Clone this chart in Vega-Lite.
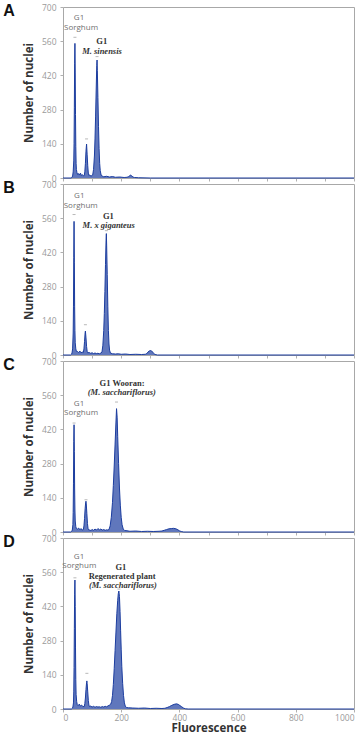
{
  "$schema": "https://vega.github.io/schema/vega-lite/v6.json",
  "background": "white",
  "padding": {"left": 2, "top": 2, "right": 4, "bottom": 0},
  "spacing": 6,
  "bounds": "flush",
  "config": {
    "view": {"stroke": "#a8a8a8", "strokeWidth": 1},
    "axis": {
      "grid": false,
      "domain": false,
      "labelFont": "Open Sans",
      "labelFontSize": 8.5,
      "labelColor": "#9a9a9a",
      "labelOverlap": false,
      "tickColor": "#b0b0b0",
      "tickSize": 3,
      "titleFont": "Open Sans",
      "titleFontWeight": "bold",
      "titleColor": "#333333",
      "titleFontSize": 11.5
    },
    "title": {"font": "Liberation Sans", "fontSize": 16, "fontWeight": "bold", "color": "#111111"}
  },
  "datasets": {
    "histA": [
      {"channel": 0, "nuclei": 0}, {"channel": 28, "nuclei": 0}, {"channel": 31, "nuclei": 3}, {"channel": 33, "nuclei": 8},
      {"channel": 35, "nuclei": 25}, {"channel": 37, "nuclei": 70}, {"channel": 38, "nuclei": 140}, {"channel": 39, "nuclei": 290},
      {"channel": 40, "nuclei": 470}, {"channel": 41, "nuclei": 551}, {"channel": 42, "nuclei": 430}, {"channel": 43, "nuclei": 260},
      {"channel": 44, "nuclei": 130}, {"channel": 45, "nuclei": 60}, {"channel": 46, "nuclei": 35}, {"channel": 48, "nuclei": 22},
      {"channel": 50, "nuclei": 15}, {"channel": 53, "nuclei": 18}, {"channel": 56, "nuclei": 12}, {"channel": 60, "nuclei": 20},
      {"channel": 63, "nuclei": 10}, {"channel": 66, "nuclei": 14}, {"channel": 70, "nuclei": 9}, {"channel": 73, "nuclei": 10},
      {"channel": 75, "nuclei": 25}, {"channel": 77, "nuclei": 60}, {"channel": 79, "nuclei": 110}, {"channel": 81, "nuclei": 139},
      {"channel": 83, "nuclei": 95}, {"channel": 85, "nuclei": 50}, {"channel": 87, "nuclei": 20}, {"channel": 89, "nuclei": 10},
      {"channel": 92, "nuclei": 12}, {"channel": 96, "nuclei": 8}, {"channel": 100, "nuclei": 10}, {"channel": 102, "nuclei": 12},
      {"channel": 105, "nuclei": 35}, {"channel": 108, "nuclei": 90}, {"channel": 110, "nuclei": 160}, {"channel": 112, "nuclei": 250},
      {"channel": 114, "nuclei": 360}, {"channel": 116, "nuclei": 460}, {"channel": 117, "nuclei": 483}, {"channel": 118, "nuclei": 440},
      {"channel": 120, "nuclei": 330}, {"channel": 122, "nuclei": 210}, {"channel": 124, "nuclei": 120}, {"channel": 126, "nuclei": 60},
      {"channel": 128, "nuclei": 30}, {"channel": 131, "nuclei": 12}, {"channel": 135, "nuclei": 8}, {"channel": 140, "nuclei": 5},
      {"channel": 150, "nuclei": 7}, {"channel": 160, "nuclei": 4}, {"channel": 170, "nuclei": 6}, {"channel": 180, "nuclei": 3},
      {"channel": 195, "nuclei": 4}, {"channel": 210, "nuclei": 2}, {"channel": 220, "nuclei": 3}, {"channel": 226, "nuclei": 6},
      {"channel": 230, "nuclei": 10}, {"channel": 233, "nuclei": 12}, {"channel": 236, "nuclei": 9}, {"channel": 240, "nuclei": 4},
      {"channel": 246, "nuclei": 2}, {"channel": 260, "nuclei": 1}, {"channel": 300, "nuclei": 0}, {"channel": 1000, "nuclei": 0}
    ],
    "histB": [
      {"channel": 0, "nuclei": 0}, {"channel": 26, "nuclei": 0}, {"channel": 29, "nuclei": 3}, {"channel": 31, "nuclei": 8},
      {"channel": 33, "nuclei": 25}, {"channel": 35, "nuclei": 90}, {"channel": 36, "nuclei": 200}, {"channel": 37, "nuclei": 400},
      {"channel": 38, "nuclei": 547}, {"channel": 39, "nuclei": 380}, {"channel": 40, "nuclei": 200}, {"channel": 41, "nuclei": 100},
      {"channel": 42, "nuclei": 50}, {"channel": 44, "nuclei": 25}, {"channel": 46, "nuclei": 15}, {"channel": 50, "nuclei": 14},
      {"channel": 54, "nuclei": 10}, {"channel": 58, "nuclei": 16}, {"channel": 62, "nuclei": 9}, {"channel": 66, "nuclei": 12},
      {"channel": 70, "nuclei": 10}, {"channel": 72, "nuclei": 25}, {"channel": 74, "nuclei": 55}, {"channel": 76, "nuclei": 90},
      {"channel": 77, "nuclei": 98}, {"channel": 79, "nuclei": 70}, {"channel": 81, "nuclei": 35}, {"channel": 83, "nuclei": 15},
      {"channel": 85, "nuclei": 9}, {"channel": 90, "nuclei": 10}, {"channel": 95, "nuclei": 7}, {"channel": 100, "nuclei": 9},
      {"channel": 105, "nuclei": 6}, {"channel": 110, "nuclei": 8}, {"channel": 115, "nuclei": 6}, {"channel": 120, "nuclei": 7},
      {"channel": 125, "nuclei": 5}, {"channel": 130, "nuclei": 8}, {"channel": 134, "nuclei": 12}, {"channel": 137, "nuclei": 40},
      {"channel": 140, "nuclei": 100}, {"channel": 142, "nuclei": 170}, {"channel": 144, "nuclei": 260}, {"channel": 146, "nuclei": 370},
      {"channel": 148, "nuclei": 470}, {"channel": 149, "nuclei": 497}, {"channel": 150, "nuclei": 450}, {"channel": 152, "nuclei": 330},
      {"channel": 154, "nuclei": 200}, {"channel": 156, "nuclei": 100}, {"channel": 158, "nuclei": 45}, {"channel": 160, "nuclei": 20},
      {"channel": 163, "nuclei": 8}, {"channel": 170, "nuclei": 5}, {"channel": 180, "nuclei": 4}, {"channel": 190, "nuclei": 5},
      {"channel": 200, "nuclei": 3}, {"channel": 215, "nuclei": 4}, {"channel": 230, "nuclei": 2}, {"channel": 250, "nuclei": 3},
      {"channel": 270, "nuclei": 2}, {"channel": 283, "nuclei": 3}, {"channel": 288, "nuclei": 6}, {"channel": 292, "nuclei": 12},
      {"channel": 296, "nuclei": 16}, {"channel": 300, "nuclei": 18}, {"channel": 304, "nuclei": 17}, {"channel": 308, "nuclei": 12},
      {"channel": 312, "nuclei": 6}, {"channel": 316, "nuclei": 2}, {"channel": 325, "nuclei": 0}, {"channel": 1000, "nuclei": 0}
    ],
    "histC": [
      {"channel": 0, "nuclei": 0}, {"channel": 27, "nuclei": 0}, {"channel": 30, "nuclei": 3}, {"channel": 32, "nuclei": 8},
      {"channel": 34, "nuclei": 30}, {"channel": 35, "nuclei": 80}, {"channel": 36, "nuclei": 200}, {"channel": 37, "nuclei": 370},
      {"channel": 38, "nuclei": 439}, {"channel": 39, "nuclei": 330}, {"channel": 40, "nuclei": 180}, {"channel": 41, "nuclei": 90},
      {"channel": 42, "nuclei": 45}, {"channel": 44, "nuclei": 22}, {"channel": 46, "nuclei": 14}, {"channel": 50, "nuclei": 12},
      {"channel": 54, "nuclei": 16}, {"channel": 58, "nuclei": 9}, {"channel": 62, "nuclei": 14}, {"channel": 66, "nuclei": 8},
      {"channel": 70, "nuclei": 10}, {"channel": 72, "nuclei": 25}, {"channel": 74, "nuclei": 55}, {"channel": 76, "nuclei": 95},
      {"channel": 78, "nuclei": 122}, {"channel": 79, "nuclei": 126}, {"channel": 80, "nuclei": 115}, {"channel": 82, "nuclei": 75},
      {"channel": 84, "nuclei": 35}, {"channel": 86, "nuclei": 15}, {"channel": 88, "nuclei": 9}, {"channel": 92, "nuclei": 8},
      {"channel": 96, "nuclei": 6}, {"channel": 100, "nuclei": 10}, {"channel": 105, "nuclei": 7}, {"channel": 110, "nuclei": 12},
      {"channel": 115, "nuclei": 8}, {"channel": 120, "nuclei": 14}, {"channel": 125, "nuclei": 9}, {"channel": 130, "nuclei": 12},
      {"channel": 135, "nuclei": 8}, {"channel": 140, "nuclei": 10}, {"channel": 145, "nuclei": 7}, {"channel": 150, "nuclei": 9},
      {"channel": 154, "nuclei": 8}, {"channel": 158, "nuclei": 10}, {"channel": 162, "nuclei": 25}, {"channel": 166, "nuclei": 60},
      {"channel": 170, "nuclei": 120}, {"channel": 173, "nuclei": 190}, {"channel": 176, "nuclei": 270}, {"channel": 179, "nuclei": 360},
      {"channel": 182, "nuclei": 450}, {"channel": 184, "nuclei": 505}, {"channel": 186, "nuclei": 470}, {"channel": 188, "nuclei": 390},
      {"channel": 191, "nuclei": 280}, {"channel": 194, "nuclei": 180}, {"channel": 197, "nuclei": 110}, {"channel": 200, "nuclei": 60},
      {"channel": 203, "nuclei": 30}, {"channel": 207, "nuclei": 12}, {"channel": 212, "nuclei": 6}, {"channel": 220, "nuclei": 5},
      {"channel": 230, "nuclei": 3}, {"channel": 250, "nuclei": 4}, {"channel": 270, "nuclei": 2}, {"channel": 290, "nuclei": 3},
      {"channel": 310, "nuclei": 2}, {"channel": 330, "nuclei": 3}, {"channel": 340, "nuclei": 4}, {"channel": 348, "nuclei": 7},
      {"channel": 356, "nuclei": 10}, {"channel": 364, "nuclei": 13}, {"channel": 372, "nuclei": 14}, {"channel": 380, "nuclei": 15},
      {"channel": 388, "nuclei": 13}, {"channel": 395, "nuclei": 9}, {"channel": 400, "nuclei": 5}, {"channel": 406, "nuclei": 2},
      {"channel": 415, "nuclei": 0}, {"channel": 1000, "nuclei": 0}
    ],
    "histD": [
      {"channel": 0, "nuclei": 0}, {"channel": 29, "nuclei": 0}, {"channel": 32, "nuclei": 3}, {"channel": 34, "nuclei": 8},
      {"channel": 36, "nuclei": 25}, {"channel": 37, "nuclei": 70}, {"channel": 38, "nuclei": 170}, {"channel": 39, "nuclei": 330},
      {"channel": 40, "nuclei": 470}, {"channel": 41, "nuclei": 528}, {"channel": 42, "nuclei": 420}, {"channel": 43, "nuclei": 250},
      {"channel": 44, "nuclei": 120}, {"channel": 45, "nuclei": 60}, {"channel": 47, "nuclei": 30}, {"channel": 49, "nuclei": 18},
      {"channel": 52, "nuclei": 14}, {"channel": 56, "nuclei": 20}, {"channel": 60, "nuclei": 12}, {"channel": 64, "nuclei": 16},
      {"channel": 68, "nuclei": 10}, {"channel": 73, "nuclei": 10}, {"channel": 75, "nuclei": 22}, {"channel": 77, "nuclei": 45},
      {"channel": 79, "nuclei": 80}, {"channel": 81, "nuclei": 108}, {"channel": 82, "nuclei": 115}, {"channel": 83, "nuclei": 105},
      {"channel": 85, "nuclei": 70}, {"channel": 87, "nuclei": 35}, {"channel": 89, "nuclei": 16}, {"channel": 91, "nuclei": 10},
      {"channel": 95, "nuclei": 12}, {"channel": 100, "nuclei": 8}, {"channel": 105, "nuclei": 11}, {"channel": 110, "nuclei": 7},
      {"channel": 115, "nuclei": 10}, {"channel": 120, "nuclei": 8}, {"channel": 125, "nuclei": 9}, {"channel": 130, "nuclei": 7},
      {"channel": 135, "nuclei": 10}, {"channel": 140, "nuclei": 8}, {"channel": 145, "nuclei": 11}, {"channel": 150, "nuclei": 9},
      {"channel": 155, "nuclei": 13}, {"channel": 160, "nuclei": 16}, {"channel": 164, "nuclei": 20}, {"channel": 167, "nuclei": 30},
      {"channel": 170, "nuclei": 55}, {"channel": 173, "nuclei": 100}, {"channel": 176, "nuclei": 165}, {"channel": 179, "nuclei": 240},
      {"channel": 182, "nuclei": 315}, {"channel": 185, "nuclei": 390}, {"channel": 188, "nuclei": 445}, {"channel": 190, "nuclei": 472},
      {"channel": 192, "nuclei": 483}, {"channel": 194, "nuclei": 460}, {"channel": 196, "nuclei": 400}, {"channel": 198, "nuclei": 320},
      {"channel": 200, "nuclei": 245}, {"channel": 202, "nuclei": 175}, {"channel": 205, "nuclei": 105}, {"channel": 208, "nuclei": 55},
      {"channel": 211, "nuclei": 25}, {"channel": 214, "nuclei": 12}, {"channel": 218, "nuclei": 6}, {"channel": 225, "nuclei": 5},
      {"channel": 240, "nuclei": 4}, {"channel": 260, "nuclei": 3}, {"channel": 280, "nuclei": 4}, {"channel": 300, "nuclei": 2},
      {"channel": 320, "nuclei": 3}, {"channel": 340, "nuclei": 2}, {"channel": 350, "nuclei": 3}, {"channel": 358, "nuclei": 6},
      {"channel": 366, "nuclei": 10}, {"channel": 374, "nuclei": 15}, {"channel": 382, "nuclei": 19}, {"channel": 390, "nuclei": 21},
      {"channel": 396, "nuclei": 19}, {"channel": 402, "nuclei": 14}, {"channel": 408, "nuclei": 9}, {"channel": 414, "nuclei": 4},
      {"channel": 420, "nuclei": 1}, {"channel": 430, "nuclei": 0}, {"channel": 1000, "nuclei": 0}
    ],
    "labels": [
      {"panel": "A", "kind": "reference", "channel": 55, "nuclei": 655, "text": "G1"},
      {"panel": "A", "kind": "reference", "channel": 62, "nuclei": 616, "text": "Sorghum"},
      {"panel": "A", "kind": "peak", "channel": 133, "nuclei": 562, "text": "G1"},
      {"panel": "A", "kind": "species", "channel": 134, "nuclei": 521, "text": "M. sinensis"},
      {"panel": "B", "kind": "reference", "channel": 56, "nuclei": 651, "text": "G1"},
      {"panel": "B", "kind": "reference", "channel": 61, "nuclei": 611, "text": "Sorghum"},
      {"panel": "B", "kind": "peak", "channel": 156, "nuclei": 569, "text": "G1"},
      {"panel": "B", "kind": "species", "channel": 157, "nuclei": 531, "text": "M. x giganteus"},
      {"panel": "C", "kind": "reference", "channel": 55, "nuclei": 523, "text": "G1"},
      {"panel": "C", "kind": "reference", "channel": 62, "nuclei": 489, "text": "Sorghum"},
      {"panel": "C", "kind": "peak", "channel": 203, "nuclei": 610, "text": "G1 Wooran:"},
      {"panel": "C", "kind": "species", "channel": 202, "nuclei": 572, "text": "(M. sacchariflorus)"},
      {"panel": "D", "kind": "reference", "channel": 55, "nuclei": 623, "text": "G1"},
      {"panel": "D", "kind": "reference", "channel": 56, "nuclei": 585, "text": "Sorghum"},
      {"panel": "D", "kind": "peak", "channel": 199, "nuclei": 582, "text": "G1"},
      {"panel": "D", "kind": "peak", "channel": 203, "nuclei": 546, "text": "Regenerated plant"},
      {"panel": "D", "kind": "species", "channel": 206, "nuclei": 508, "text": "(M. sacchariflorus)"}
    ],
    "peakMarks": [
      {"panel": "A", "channel": 41, "nuclei": 576}, {"panel": "A", "channel": 81, "nuclei": 160}, {"panel": "A", "channel": 117, "nuclei": 497},
      {"panel": "B", "channel": 38, "nuclei": 575}, {"panel": "B", "channel": 77, "nuclei": 124}, {"panel": "B", "channel": 149, "nuclei": 509},
      {"panel": "C", "channel": 38, "nuclei": 446}, {"panel": "C", "channel": 79, "nuclei": 132}, {"panel": "C", "channel": 184, "nuclei": 532},
      {"panel": "D", "channel": 41, "nuclei": 537}, {"panel": "D", "channel": 82, "nuclei": 146}, {"panel": "D", "channel": 192, "nuclei": 491}
    ]
  },
  "vconcat": [
    {
      "width": 291, "height": 171,
      "title": {"text": "A", "orient": "left", "anchor": "end", "angle": 0, "baseline": "top", "offset": -3},
      "layer": [
        {
          "data": {"name": "histA"},
          "mark": {"type": "area", "color": "#1c3d9f", "line": {"color": "#1c3d9f", "strokeWidth": 1}},
          "encoding": {
            "x": {"field": "channel", "type": "quantitative", "scale": {"domain": [0, 1000]},
                  "axis": {"values": [0, 100, 200, 300, 400, 500, 600, 700, 800, 900, 1000], "tickCount": 20, "labels": false, "title": null}},
            "y": {"field": "nuclei", "type": "quantitative", "scale": {"domain": [0, 700]},
                  "axis": {"values": [0, 140, 280, 420, 560, 700], "tickCount": 10, "title": "Number of nuclei", "titlePadding": 7, "labelPadding": 4}}
          }
        },
        {
          "data": {"name": "peakMarks"},
          "transform": [{"filter": "datum.panel === 'A'"}],
          "mark": {"type": "tick", "orient": "horizontal", "size": 3, "thickness": 1, "color": "#9a9a9a"},
          "encoding": {"x": {"field": "channel", "type": "quantitative"}, "y": {"field": "nuclei", "type": "quantitative"}}
        },
        {
          "data": {"name": "labels"},
          "transform": [{"filter": "datum.panel === 'A' && datum.kind === 'reference'"}],
          "mark": {"type": "text", "font": "Open Sans", "fontSize": 8, "color": "#707070", "baseline": "middle"},
          "encoding": {"x": {"field": "channel", "type": "quantitative"}, "y": {"field": "nuclei", "type": "quantitative"}, "text": {"field": "text"}}
        },
        {
          "data": {"name": "labels"},
          "transform": [{"filter": "datum.panel === 'A' && datum.kind === 'peak'"}],
          "mark": {"type": "text", "font": "Liberation Serif", "fontSize": 8.5, "fontWeight": "bold", "color": "#333333", "baseline": "middle"},
          "encoding": {"x": {"field": "channel", "type": "quantitative"}, "y": {"field": "nuclei", "type": "quantitative"}, "text": {"field": "text"}}
        },
        {
          "data": {"name": "labels"},
          "transform": [{"filter": "datum.panel === 'A' && datum.kind === 'species'"}],
          "mark": {"type": "text", "font": "Liberation Serif", "fontSize": 8.5, "fontWeight": "bold", "fontStyle": "italic", "color": "#333333", "baseline": "middle"},
          "encoding": {"x": {"field": "channel", "type": "quantitative"}, "y": {"field": "nuclei", "type": "quantitative"}, "text": {"field": "text"}}
        }
      ]
    },
    {
      "width": 291, "height": 171,
      "title": {"text": "B", "orient": "left", "anchor": "end", "angle": 0, "baseline": "top", "offset": -3},
      "layer": [
        {
          "data": {"name": "histB"},
          "mark": {"type": "area", "color": "#1c3d9f", "line": {"color": "#1c3d9f", "strokeWidth": 1}},
          "encoding": {
            "x": {"field": "channel", "type": "quantitative", "scale": {"domain": [0, 1000]},
                  "axis": {"values": [0, 100, 200, 300, 400, 500, 600, 700, 800, 900, 1000], "tickCount": 20, "labels": false, "title": null}},
            "y": {"field": "nuclei", "type": "quantitative", "scale": {"domain": [0, 700]},
                  "axis": {"values": [0, 140, 280, 420, 560, 700], "tickCount": 10, "title": "Number of nuclei", "titlePadding": 7, "labelPadding": 4}}
          }
        },
        {
          "data": {"name": "peakMarks"},
          "transform": [{"filter": "datum.panel === 'B'"}],
          "mark": {"type": "tick", "orient": "horizontal", "size": 3, "thickness": 1, "color": "#9a9a9a"},
          "encoding": {"x": {"field": "channel", "type": "quantitative"}, "y": {"field": "nuclei", "type": "quantitative"}}
        },
        {
          "data": {"name": "labels"},
          "transform": [{"filter": "datum.panel === 'B' && datum.kind === 'reference'"}],
          "mark": {"type": "text", "font": "Open Sans", "fontSize": 8, "color": "#707070", "baseline": "middle"},
          "encoding": {"x": {"field": "channel", "type": "quantitative"}, "y": {"field": "nuclei", "type": "quantitative"}, "text": {"field": "text"}}
        },
        {
          "data": {"name": "labels"},
          "transform": [{"filter": "datum.panel === 'B' && datum.kind === 'peak'"}],
          "mark": {"type": "text", "font": "Liberation Serif", "fontSize": 8.5, "fontWeight": "bold", "color": "#333333", "baseline": "middle"},
          "encoding": {"x": {"field": "channel", "type": "quantitative"}, "y": {"field": "nuclei", "type": "quantitative"}, "text": {"field": "text"}}
        },
        {
          "data": {"name": "labels"},
          "transform": [{"filter": "datum.panel === 'B' && datum.kind === 'species'"}],
          "mark": {"type": "text", "font": "Liberation Serif", "fontSize": 8.5, "fontWeight": "bold", "fontStyle": "italic", "color": "#333333", "baseline": "middle"},
          "encoding": {"x": {"field": "channel", "type": "quantitative"}, "y": {"field": "nuclei", "type": "quantitative"}, "text": {"field": "text"}}
        }
      ]
    },
    {
      "width": 291, "height": 171,
      "title": {"text": "C", "orient": "left", "anchor": "end", "angle": 0, "baseline": "top", "offset": -3},
      "layer": [
        {
          "data": {"name": "histC"},
          "mark": {"type": "area", "color": "#1c3d9f", "line": {"color": "#1c3d9f", "strokeWidth": 1}},
          "encoding": {
            "x": {"field": "channel", "type": "quantitative", "scale": {"domain": [0, 1000]},
                  "axis": {"values": [0, 100, 200, 300, 400, 500, 600, 700, 800, 900, 1000], "tickCount": 20, "labels": false, "title": null}},
            "y": {"field": "nuclei", "type": "quantitative", "scale": {"domain": [0, 700]},
                  "axis": {"values": [0, 140, 280, 420, 560, 700], "tickCount": 10, "title": "Number of nuclei", "titlePadding": 7, "labelPadding": 4}}
          }
        },
        {
          "data": {"name": "peakMarks"},
          "transform": [{"filter": "datum.panel === 'C'"}],
          "mark": {"type": "tick", "orient": "horizontal", "size": 3, "thickness": 1, "color": "#9a9a9a"},
          "encoding": {"x": {"field": "channel", "type": "quantitative"}, "y": {"field": "nuclei", "type": "quantitative"}}
        },
        {
          "data": {"name": "labels"},
          "transform": [{"filter": "datum.panel === 'C' && datum.kind === 'reference'"}],
          "mark": {"type": "text", "font": "Open Sans", "fontSize": 8, "color": "#707070", "baseline": "middle"},
          "encoding": {"x": {"field": "channel", "type": "quantitative"}, "y": {"field": "nuclei", "type": "quantitative"}, "text": {"field": "text"}}
        },
        {
          "data": {"name": "labels"},
          "transform": [{"filter": "datum.panel === 'C' && datum.kind === 'peak'"}],
          "mark": {"type": "text", "font": "Liberation Serif", "fontSize": 8.5, "fontWeight": "bold", "color": "#333333", "baseline": "middle"},
          "encoding": {"x": {"field": "channel", "type": "quantitative"}, "y": {"field": "nuclei", "type": "quantitative"}, "text": {"field": "text"}}
        },
        {
          "data": {"name": "labels"},
          "transform": [{"filter": "datum.panel === 'C' && datum.kind === 'species'"}],
          "mark": {"type": "text", "font": "Liberation Serif", "fontSize": 8.5, "fontWeight": "bold", "fontStyle": "italic", "color": "#333333", "baseline": "middle"},
          "encoding": {"x": {"field": "channel", "type": "quantitative"}, "y": {"field": "nuclei", "type": "quantitative"}, "text": {"field": "text"}}
        }
      ]
    },
    {
      "width": 291, "height": 171,
      "title": {"text": "D", "orient": "left", "anchor": "end", "angle": 0, "baseline": "top", "offset": -3},
      "layer": [
        {
          "data": {"name": "histD"},
          "mark": {"type": "area", "color": "#1c3d9f", "line": {"color": "#1c3d9f", "strokeWidth": 1}},
          "encoding": {
            "x": {"field": "channel", "type": "quantitative", "scale": {"domain": [0, 1000]},
                  "axis": {"values": [0, 200, 400, 600, 800, 1000], "tickCount": 20, "format": "d", "title": "Fluorescence", "labelFlush": true, "labelPadding": 1, "titlePadding": 1}},
            "y": {"field": "nuclei", "type": "quantitative", "scale": {"domain": [0, 700]},
                  "axis": {"values": [0, 140, 280, 420, 560, 700], "tickCount": 10, "title": "Number of nuclei", "titlePadding": 7, "labelPadding": 4}}
          }
        },
        {
          "data": {"name": "peakMarks"},
          "transform": [{"filter": "datum.panel === 'D'"}],
          "mark": {"type": "tick", "orient": "horizontal", "size": 3, "thickness": 1, "color": "#9a9a9a"},
          "encoding": {"x": {"field": "channel", "type": "quantitative"}, "y": {"field": "nuclei", "type": "quantitative"}}
        },
        {
          "data": {"name": "labels"},
          "transform": [{"filter": "datum.panel === 'D' && datum.kind === 'reference'"}],
          "mark": {"type": "text", "font": "Open Sans", "fontSize": 8, "color": "#707070", "baseline": "middle"},
          "encoding": {"x": {"field": "channel", "type": "quantitative"}, "y": {"field": "nuclei", "type": "quantitative"}, "text": {"field": "text"}}
        },
        {
          "data": {"name": "labels"},
          "transform": [{"filter": "datum.panel === 'D' && datum.kind === 'peak'"}],
          "mark": {"type": "text", "font": "Liberation Serif", "fontSize": 8.5, "fontWeight": "bold", "color": "#333333", "baseline": "middle"},
          "encoding": {"x": {"field": "channel", "type": "quantitative"}, "y": {"field": "nuclei", "type": "quantitative"}, "text": {"field": "text"}}
        },
        {
          "data": {"name": "labels"},
          "transform": [{"filter": "datum.panel === 'D' && datum.kind === 'species'"}],
          "mark": {"type": "text", "font": "Liberation Serif", "fontSize": 8.5, "fontWeight": "bold", "fontStyle": "italic", "color": "#333333", "baseline": "middle"},
          "encoding": {"x": {"field": "channel", "type": "quantitative"}, "y": {"field": "nuclei", "type": "quantitative"}, "text": {"field": "text"}}
        }
      ]
    }
  ]
}
